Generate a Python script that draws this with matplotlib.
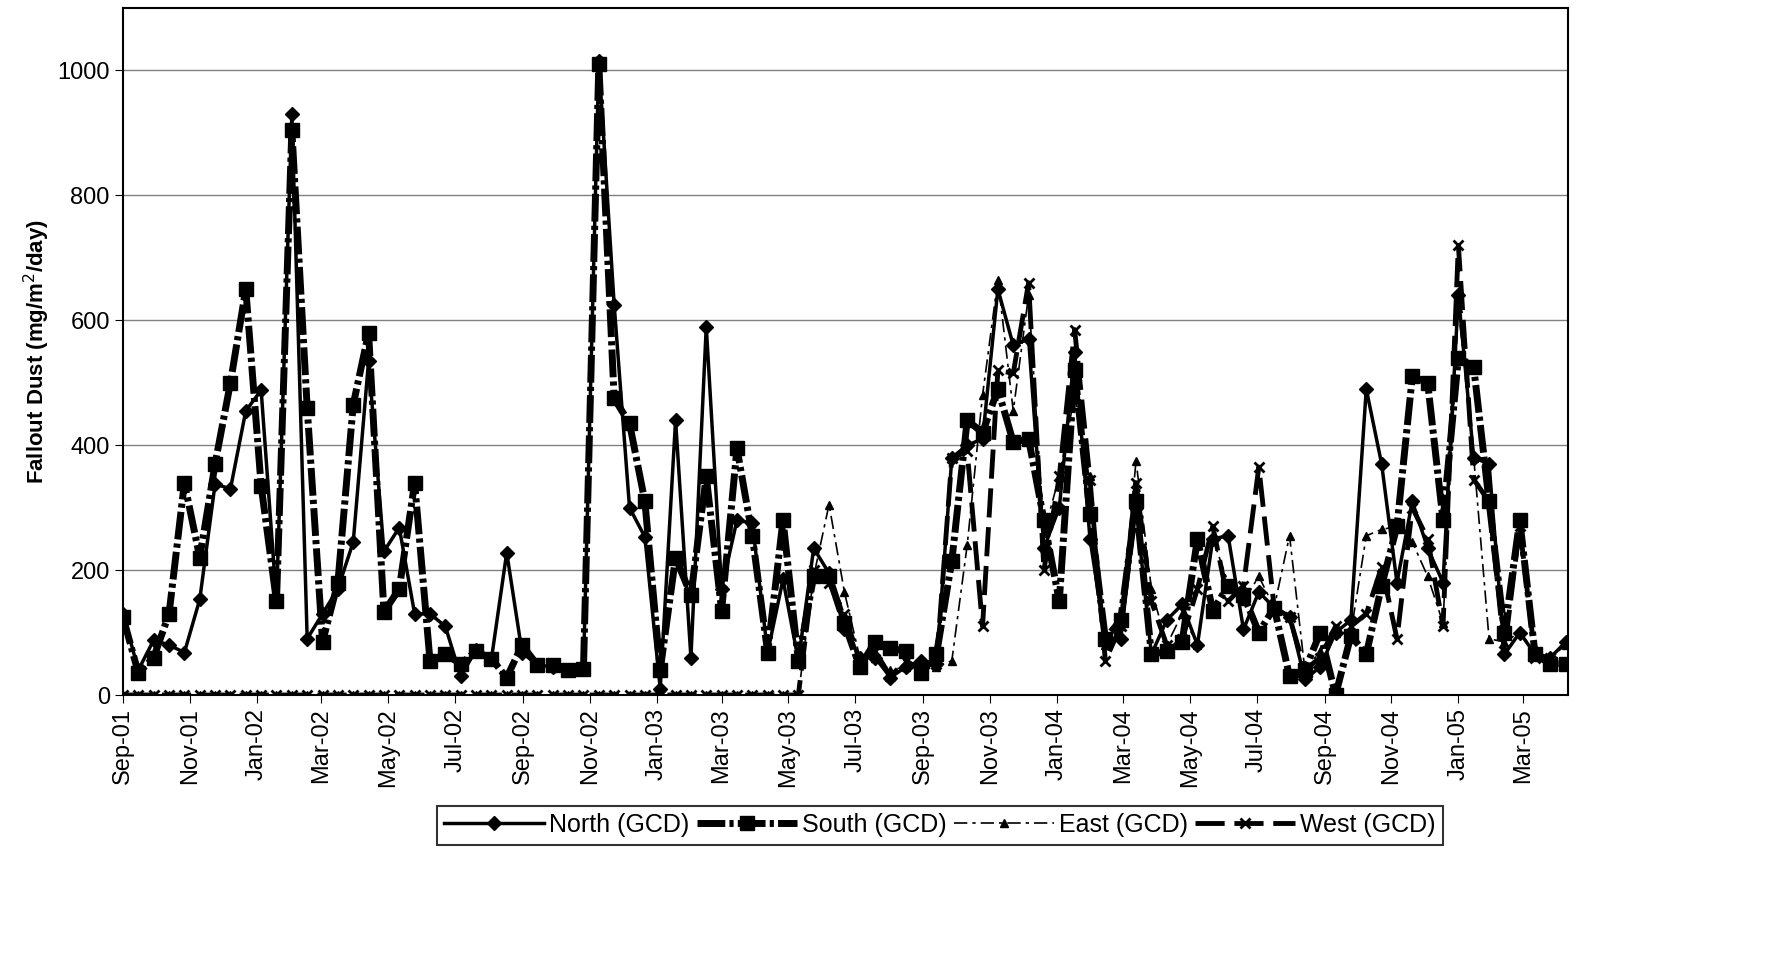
import matplotlib
matplotlib.use('Agg')
import matplotlib.pyplot as plt
import matplotlib.dates as mdates
import numpy as np

plt.rcParams['font.family'] = ['Liberation Sans', 'DejaVu Sans']

dates = np.datetime64('2001-09-01') + np.arange(95) * np.timedelta64(14, 'D')

north = [130, 40, 88, 80, 68, 153, 338, 330, 455, 488, 150, 930, 90, 130, 170, 245, 535, 230, 268, 130,
         130, 110, 30, 72, 57, 228, 68, 48, 45, 40, 42, 1015, 625, 300, 253, 10, 440, 60, 590, 170,
         280, 275, 68, 185, 55, 235, 195, 105, 60, 60, 28, 45, 55, 50, 380, 400, 410, 650, 560, 570,
         235, 300, 550, 250, 90, 90, 300, 65, 120, 145, 80, 250, 255, 105, 165, 140, 125, 25, 45, 100,
         120, 490, 370, 180, 310, 235, 180, 640, 380, 370, 65, 100, 65, 60, 85]
south = [125, 35, 60, 130, 340, 220, 370, 500, 650, 335, 150, 905, 460, 85, 180, 465, 580, 133, 170, 340,
         55, 65, 50, 70, 58, 28, 80, 48, 48, 40, 42, 1010, 475, 435, 310, 40, 220, 160, 350, 135,
         395, 255, 68, 280, 55, 190, 190, 115, 45, 85, 75, 70, 35, 65, 215, 440, 420, 490, 405, 410,
         280, 150, 520, 290, 90, 120, 310, 65, 70, 85, 250, 135, 175, 160, 100, 140, 30, 40, 100, 0,
         95, 65, 175, 270, 510, 500, 280, 540, 525, 310, 100, 280, 65, 50, 50]
east = [0] * 45 + [190, 305, 165, 60, 60, 40, 45, 50, 45, 55, 240, 480, 665, 455, 640,
                   260, 350, 480, 350, 80, 110, 375, 170, 80, 130, 80, 250, 180, 150, 190, 140, 255, 40, 70, 100,
                   100, 255, 265, 270, 245, 190, 115, 620, 380, 90, 85, 100, 70, 60, 80]
west = [0] * 45 + [200, 180, 130, 55, 70, 30, 55, 40, 50, 380, 390, 110, 520, 515, 660,
                   200, 350, 585, 345, 55, 110, 340, 150, 80, 90, 170, 270, 150, 175, 365, 140, 125, 40, 60, 110,
                   110, 130, 205, 90, 300, 250, 110, 720, 345, 310, 70, 270, 60, 60, 50]

fig = plt.figure(figsize=(17.73, 9.55), dpi=100)
ax = fig.add_axes([123/1773, 1 - 695/955, 1445/1773, 687/955])

ax.plot(dates, north, color='black', lw=2.5, marker='D', ms=7, label='North (GCD)')
ax.plot(dates, south, color='black', lw=5, dashes=(4, 0.6, 0.6, 0.6), marker='s', ms=10, label='South (GCD)')
ax.plot(dates, east, color='black', lw=1.2, dashes=(8, 3, 2, 3), marker='^', ms=6, label='East (GCD)')
ax.plot(dates, west, color='black', lw=3.5, dashes=(6, 2), marker='x', ms=7, mew=2, label='West (GCD)')

ax.set_ylim(0, 1100)
ax.set_yticks([0, 200, 400, 600, 800, 1000])
ax.yaxis.grid(True, color='#808080', lw=1)
ax.set_axisbelow(True)
ax.set_xlim(np.datetime64('2001-09-01'), np.datetime64('2001-09-01') + np.timedelta64(1318, 'D'))
ax.xaxis.set_major_locator(mdates.MonthLocator(bymonth=[1, 3, 5, 7, 9, 11]))
ax.xaxis.set_major_formatter(mdates.DateFormatter('%b-%y'))
plt.setp(ax.get_xticklabels(), rotation=90)
ax.tick_params(labelsize=17, direction='out', length=6)
for s in ax.spines.values():
    s.set_linewidth(1.5)
ax.set_ylabel('Fallout Dust (mg/m$^2$/day)', fontsize=16, fontweight='bold')

leg = fig.legend(loc='center', bbox_to_anchor=(940/1773, 1 - 825/955), ncol=4, fontsize=18,
                 frameon=True, fancybox=False, edgecolor='black', handlelength=4,
                 columnspacing=0.3, handletextpad=0.2, borderpad=0.3)
leg.get_frame().set_linewidth(1.5)

fig.savefig('out.png', dpi=100)
